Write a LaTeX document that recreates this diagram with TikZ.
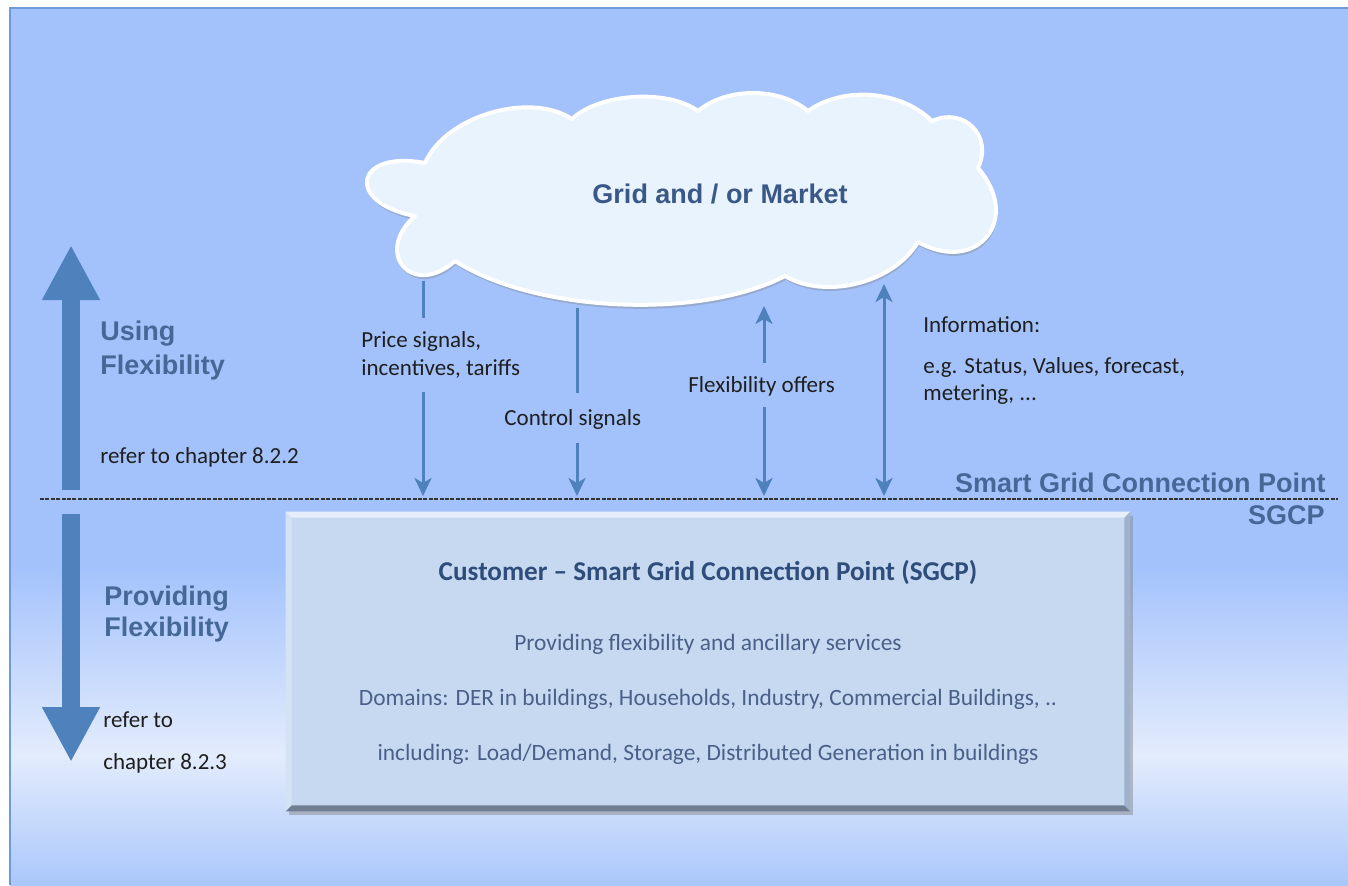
\documentclass[tikz,border=0pt]{standalone}
\usepackage{fontspec}
\setmainfont{Carlito}
\newfontfamily\arialfont{Liberation Sans}
\usetikzlibrary{arrows.meta,shadows}
\usepackage{color}

\definecolor{bgblue}{RGB}{163,194,252}
\definecolor{bglight}{RGB}{227,236,252}
\definecolor{bgbottom}{RGB}{170,199,251}
\definecolor{framecol}{RGB}{110,155,215}
\definecolor{arrowblue}{RGB}{79,129,189}
\definecolor{headblue}{RGB}{70,104,150}
\definecolor{gridblue}{RGB}{57,88,136}
\definecolor{cloudfill}{RGB}{233,243,253}
\definecolor{boxfill}{RGB}{198,217,241}
\definecolor{bevelR}{RGB}{160,178,204}
\definecolor{bevelB}{RGB}{112,126,148}
\definecolor{boxtitle}{RGB}{47,77,122}
\definecolor{boxtext}{RGB}{74,96,136}

\tikzset{
  sig/.style={draw=arrowblue,line width=1.5pt},
  bigarrow/.style={draw=arrowblue,line width=9pt,-{Triangle[length=27.5pt,width=27pt]}},
  txt/.style={font=\fontsize{11.5}{13.5}\selectfont,text=black!88,inner sep=0pt,anchor=base west},
  head/.style={font=\arialfont\bfseries\fontsize{13.5}{16}\selectfont,text=headblue,inner sep=0pt,anchor=base west},
  boxtxt/.style={font=\fontsize{11.7}{14}\selectfont,text=boxtext,inner sep=0pt,anchor=base}
}

\begin{document}
\begin{tikzpicture}[x=0.5pt,y=-0.5pt,>={Stealth[length=9pt,width=8.5pt,inset=2.5pt]}]
\useasboundingbox (0,0) rectangle (1348,885);
%background
\fill[white] (0,0) rectangle (1348,885);
\fill[bgblue] (10,8) rectangle (1348,566);
\shade[top color=bgblue,bottom color=bglight] (10,565) rectangle (1348,756);
\shade[top color=bglight,bottom color=bgbottom] (10,755) rectangle (1348,885);
\draw[framecol,line width=1pt] (10,885) -- (10,8) -- (1348,8);

%cloud
\path[fill=cloudfill,draw=white,line width=2pt,line join=round,
  drop shadow={shadow xshift=0.5pt,shadow yshift=-2pt,opacity=0.35}]
  (415,216) to[bend left=90,looseness=3.4] (425,163)
  to[bend left=50,looseness=0.85] (572,119)
  to[bend left=40,looseness=0.76] (698,111)
  to[bend left=40,looseness=0.87] (808,111)
  to[bend left=40,looseness=0.9] (932,121)
  to[bend left=70,looseness=1.37] (978,168)
  to[bend left=80,looseness=1.82] (918,242)
  to[bend left=45,looseness=0.88] (785,276)
  to[bend left=30,looseness=0.74] (455,261)
  to[bend left=90,looseness=2.4] (415,216) -- cycle;
\node[font=\arialfont\bfseries\fontsize{13.5}{16}\selectfont,text=gridblue,inner sep=0pt,anchor=base]
  (market) at (720,203) {Grid and / or Market};

%connection point line
\coordinate (dl) at (40,499);
\coordinate (dr) at (1338,499);
\draw[black!80,line width=0.6pt,dash pattern=on 2pt off 0.7pt] (dl) -- (dr);
\node[head,anchor=base east] (sgcp1) at (1326,492) {Smart Grid Connection Point};
\node[head,anchor=base east] (sgcp2) at (1325,524) {SGCP};

%big arrows
\coordinate (ub) at (71,490);
\coordinate (ut) at (71,245);
\coordinate (db) at (71,514);
\coordinate (dt) at (71,762);
\draw[bigarrow] (ub) -- (ut);
\draw[bigarrow] (db) -- (dt);
\node[head] (use1) at (100,340) {Using};
\node[head] (use2) at (100,374) {Flexibility};
\node[txt] (ref1) at (100,463) {refer to chapter 8.2.2};
\node[head] (prov1) at (104,605) {Providing};
\node[head] (prov2) at (104,636) {Flexibility};
\node[txt] (ref2) at (103,727) {refer to};
\node[txt] (ref3) at (103,769) {chapter 8.2.3};

%signal arrows
\coordinate (p1) at (423,281);
\coordinate (p2) at (423,318);
\coordinate (p3) at (423,392);
\coordinate (p4) at (423,496);
\coordinate (c1) at (577,308);
\coordinate (c2) at (577,393);
\coordinate (c3) at (577,443);
\coordinate (c4) at (577,496);
\coordinate (f1) at (764,363);
\coordinate (f2) at (764,306);
\coordinate (f3) at (764,407);
\coordinate (f4) at (764,496);
\coordinate (i1) at (884,284);
\coordinate (i2) at (884,496);
\draw[sig] (p1) -- (p2);
\draw[sig,->] (p3) -- (p4);
\draw[sig] (c1) -- (c2);
\draw[sig,->] (c3) -- (c4);
\draw[sig,->] (f1) -- (f2);
\draw[sig,->] (f3) -- (f4);
\draw[sig,<->] (i1) -- (i2);
\node[txt] (price1) at (361,347) {Price signals,};
\node[txt] (price2) at (361,375) {incentives, tariffs};
\node[txt] (ctrl) at (504,425) {Control signals};
\node[txt] (offer) at (688,392) {Flexibility offers};
\node[txt] (info1) at (923,332) {Information:};
\node[txt] (info2) at (923,373) {e.g. Status, Values, forecast,};
\node[txt] (info3) at (923,400) {metering, ...};

%customer box
\node[fill=boxfill,minimum width=422pt,minimum height=149.5pt,inner sep=0pt,
  drop shadow={shadow xshift=1.5pt,shadow yshift=-2pt,opacity=0.45}] (box) at (708,661.5) {};
\fill[white!55!boxfill] (box.north west) -- (box.north east) -- ([shift={(-6,6)}]box.north east) -- ([shift={(6,6)}]box.north west) -- cycle;
\fill[white!25!boxfill] (box.north west) -- ([shift={(6,6)}]box.north west) -- ([shift={(6,-6)}]box.south west) -- (box.south west) -- cycle;
\fill[bevelR] (box.north east) -- ([shift={(-6,6)}]box.north east) -- ([shift={(-6,-6)}]box.south east) -- (box.south east) -- cycle;
\fill[bevelB] (box.south west) -- ([shift={(6,-6)}]box.south west) -- ([shift={(-6,-6)}]box.south east) -- (box.south east) -- cycle;
\node[font=\bfseries\fontsize{13.6}{16}\selectfont,text=boxtitle,inner sep=0pt,anchor=base]
  (cust) at (708,580) {Customer -- Smart Grid Connection Point (SGCP)};
\node[boxtxt] (serv) at (708,650) {Providing flexibility and ancillary services};
\node[boxtxt] (dom) at (708,705) {Domains: DER in buildings, Households, Industry, Commercial Buildings, ..};
\node[boxtxt] (incl) at (708,760) {including: Load/Demand, Storage, Distributed Generation in buildings};
\end{tikzpicture}
\end{document}
